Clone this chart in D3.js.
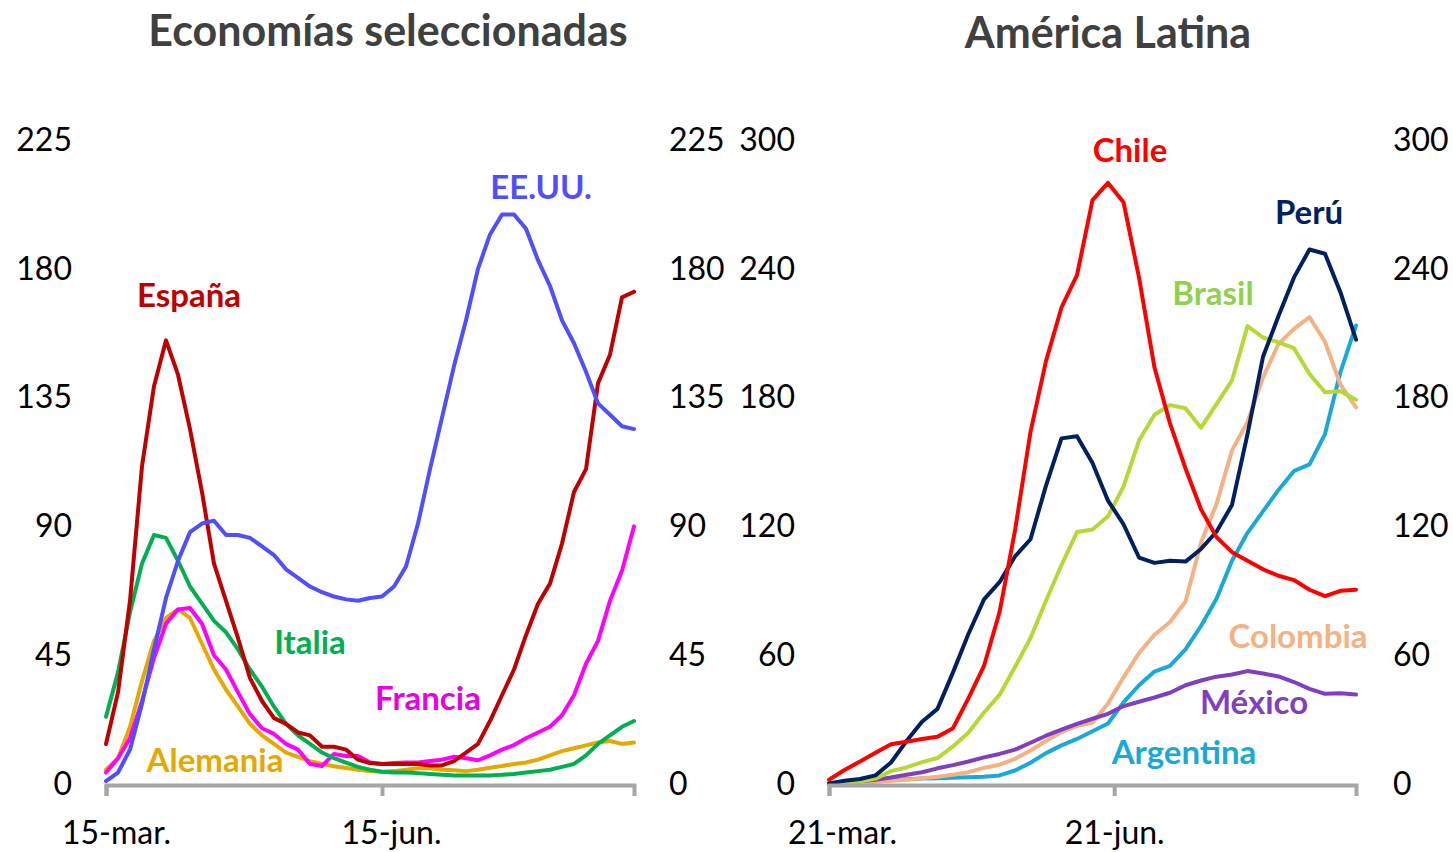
<!DOCTYPE html>
<html><head><meta charset="utf-8">
<script src="https://cdn.jsdelivr.net/npm/d3@7"></script>
<style>
body{margin:0;background:#fff;}
svg{display:block;font-family:Lato,"Open Sans",sans-serif;}
</style></head><body>
<svg id="c" width="1453" height="852"></svg>
<script>
// ---------- DATA ----------
// Left panel: sampled every 4 days from 15-mar-2020 to 7-sep-2020
const leftStart = "2020-03-15", leftStep = 4, leftCount = 45;
const espana   = [14,32,64,111,139,155,143,124,102,77,64,51,37,29,23,21,18,17,13,13,12,8.5,7.3,7,7,7,7,6.5,6.5,8,11,14,22,31,40,52,63,70,84,102,110,140,150,170,172];
const eeuu     = [1,4,12,28,47,65,78,88,91,92,87,87,86,83,80,75,72,69,67,65.5,64.5,64,65,65.5,69,76,91,110,128,146,162,180,192,199,199,194,183,174,162,154,144,133,129,125,124];
const italia   = [23.5,39,60,77,87,86,78,69,63,57,53,47,40,34,27,21,17,14,11,9,7.5,6,5,4.3,4,4,3.8,3.5,3.2,3,3,3,3,3.2,3.5,4,4.5,5,6,7,10,14,17,20,22];
const francia  = [4,9,16,29,44,56,61,61.5,56,45,40,32,24.4,19.5,17.5,14,12,7,6.3,10.5,9.8,9.8,7.5,7,7.3,7.5,7.5,8,8.5,9.5,9,8.3,10,12,13.6,16,18,20,24,31,42,50,64,74.5,90];
const alemania = [5,9,20,36,50,58,61,58,49,40,33,27,21,17,14,11,9.5,8,7,6.2,5.6,5,4.5,4.3,4.5,5,5.5,5.5,5,4.8,4.5,5,5.7,6.3,7,7.5,8.5,10,11.5,12.5,13.5,14.5,15,14,14.5];
const leftTicksY = [0,45,90,135,180,225];
const leftTicksX = ["2020-03-15","2020-06-15"];
const leftTickLabels = ["15-mar.","15-jun."];

// Right panel: sampled every 5 days from 21-mar-2020 to 7-sep-2020
const rightStart = "2020-03-21", rightStep = 5, rightCount = 35;
const chile     = [2,6.5,10.5,14.5,18.5,19.7,21,22,26,40,55,80,118,164,197,222,237,272,280,271,236,194,168,147,128,115,108,104,100,97,95,90.5,87.5,90,90.5];
const peru      = [0.3,1.5,2.3,4,10,20,29,35,52,70,86,94,106,114,139,161,162,149.5,132,121,105.5,103,104,103.6,109.5,117.5,130,163,199,218,236,249,247,229,207];
const brasil    = [0,0.5,1.2,2.5,6,7.7,10.2,12.1,17.5,24,33.3,41.5,54.5,68,85.4,102,117.4,118.6,124.7,138.5,160,172,176.5,175,166,177,188,213.3,208,205.7,203,191,182.5,183,179];
const colombia  = [0,0.3,0.7,1,1.5,2,2.7,3.4,4.3,5.5,7.5,9,11.7,15.6,20,24.2,27.1,28.5,37.5,49.7,61,69.5,75.5,85,112.4,130.4,155.4,168.7,189.3,205,212,217.5,206,186,175.5];
const mexico    = [0.3,0.8,1.3,2,3,4.3,5.5,7.3,8.8,10.5,12.4,14,16,19.2,22.5,25.3,28,30.4,32.7,36.3,38.3,40.3,42.5,46,48.2,50,51,52.6,51.5,50.1,47.5,44.3,42,42.3,41.7];
const argentina = [0,0.3,0.7,1.2,1.8,2.2,2.6,2.7,2.9,3.1,3.4,4,6.3,9.9,14.4,18,21,24.6,28.2,38,46,52.4,55,62.7,73.6,86.3,104,117,127,137,145.8,148.9,163,192,213.6];
const rightTicksY = [0,60,120,180,240,300];
const rightTicksX = ["2020-03-21","2020-06-21"];
const rightTickLabels = ["21-mar.","21-jun."];

const titles = ["Economías seleccionadas","América Latina"];

// ---------- CHART ----------
const parse = d3.timeParse("%Y-%m-%d");
const svg = d3.select("#c");
const FONT_TICK = 32, FONT_LABEL = 33, FONT_TITLE = 43;

function panel(cfg){
  const dates = d3.range(cfg.count).map(i => d3.timeDay.offset(parse(cfg.start), i*cfg.step));
  const x = d3.scaleTime().domain([dates[0], dates[dates.length-1]]).range([cfg.x0, cfg.x1]);
  const y = d3.scaleLinear().domain([0, cfg.ymax]).range([784, 140]);
  const g = svg.append("g");

  // title
  g.append("text").attr("x", cfg.titleX).attr("y", cfg.titleY)
    .attr("text-anchor","middle").attr("font-size",FONT_TITLE).attr("font-weight",700)
    .attr("fill","#404040").text(cfg.title);

  // y axes (both sides)
  const yl = g.append("g").attr("transform",`translate(${cfg.yLeftX},0)`)
    .call(d3.axisLeft(y).tickValues(cfg.ticksY).tickSize(0).tickPadding(0));
  const yr = g.append("g").attr("transform",`translate(${cfg.yRightX},0)`)
    .call(d3.axisRight(y).tickValues(cfg.ticksY).tickSize(0).tickPadding(0));
  [yl,yr].forEach(a=>{
    a.select(".domain").remove();
    a.selectAll("text").attr("font-size",FONT_TICK).attr("font-family","Lato").attr("fill","#000");
  });

  // lines
  const line = d3.line().x((d,i)=>x(dates[i])).y(d=>y(d));
  cfg.series.forEach(s=>{
    g.append("path").datum(s.values).attr("d", line)
      .attr("fill","none").attr("stroke", s.color).attr("stroke-width",4)
      .attr("stroke-linejoin","round").attr("stroke-linecap","round");
  });

  // x axis
  const tickDates = cfg.ticksX.map(parse);
  const xa = g.append("g").attr("transform","translate(0,785)")
    .call(d3.axisBottom(x).tickValues(tickDates).tickSizeOuter(0).tickSize(11).tickPadding(25)
      .tickFormat((d,i)=>cfg.tickLabels[i]));
  xa.select(".domain").attr("stroke","#A6A6A6").attr("stroke-width",4);
  xa.selectAll(".tick line").attr("stroke","#A6A6A6").attr("stroke-width",4);
  xa.selectAll("text").attr("font-size",FONT_TICK).attr("font-family","Lato").attr("fill","#000")
    .attr("dx",(d,i)=>cfg.labelDx[i]);

  // series labels
  cfg.series.forEach(s=>{
    g.append("text").attr("x",s.lx).attr("y",s.ly).attr("text-anchor","middle")
      .attr("font-size",FONT_LABEL).attr("font-weight",700).attr("fill",s.labelColor||s.color)
      .text(s.name);
  });
}

panel({
  title: titles[0], titleX: 388, titleY: 46,
  start: leftStart, step: leftStep, count: leftCount,
  x0: 106, x1: 634, ymax: 225, ticksY: leftTicksY,
  yLeftX: 72, yRightX: 669,
  ticksX: leftTicksX, tickLabels: leftTickLabels, labelDx: [10, 9],
  series: [
    {name:"Alemania", values: alemania, color:"#E5A800", lx:215, ly:772},
    {name:"Francia",  values: francia,  color:"#FF00FF", labelColor:"#E600E6", lx:428, ly:710},
    {name:"Italia",   values: italia,   color:"#00B050", lx:310, ly:654},
    {name:"España",   values: espana,   color:"#C00000", lx:189, ly:307},
    {name:"EE.UU.",   values: eeuu,     color:"#4F4FFF", lx:541, ly:199}
  ]
});

panel({
  title: titles[1], titleX: 1108, titleY: 48,
  start: rightStart, step: rightStep, count: rightCount,
  x0: 829, x1: 1356, ymax: 300, ticksY: rightTicksY,
  yLeftX: 795, yRightX: 1393,
  ticksX: rightTicksX, tickLabels: rightTickLabels, labelDx: [13, 0],
  series: [
    {name:"Argentina", values: argentina, color:"#18A9D8", lx:1184, ly:764},
    {name:"Colombia",  values: colombia,  color:"#F4B183", lx:1298, ly:648},
    {name:"México",    values: mexico,    color:"#7F3FBF", lx:1254, ly:714},
    {name:"Brasil",    values: brasil,    color:"#B4D935", labelColor:"#92D050", lx:1213, ly:305},
    {name:"Perú",      values: peru,      color:"#002060", lx:1309, ly:224},
    {name:"Chile",     values: chile,     color:"#FF0000", lx:1130, ly:162}
  ]
});
</script>
</body></html>
